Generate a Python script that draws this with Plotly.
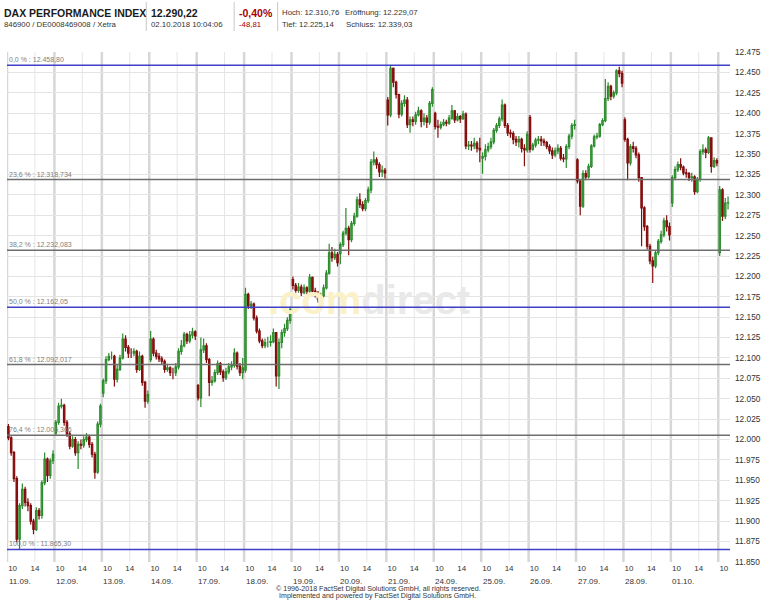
import plotly.graph_objects as go

# ---------------- data ----------------
days = ["11.09.", "12.09.", "13.09.", "14.09.", "17.09.", "18.09.", "19.09.", "20.09.",
        "21.09.", "24.09.", "25.09.", "26.09.", "27.09.", "28.09.", "01.10.", "02.10."]

# 30-minute candles, 9:00-17:30; open = previous close inside a day
day_open = [12016, 12008, 12057, 12098, 12066, 12085, 12196, 12228,
            12416, 12400, 12345, 12395, 12343, 12392, 12290, 12229.07]

closes = [
    [12002, 11984, 11952, 11878, 11919, 11939, 11923, 11919, 11900, 11890, 11913, 11907, 11947, 11976, 11956, 11974, 11982],
    [12021, 12041, 12042, 12021, 12007, 11992, 12000, 11984, 11994, 11993, 12000, 12003, 11994, 11982, 11960, 12019, 12041],
    [12072, 12098, 12102, 12102, 12074, 12086, 12100, 12123, 12113, 12106, 12106, 12108, 12086, 12102, 12070, 12047, 12055],
    [12123, 12106, 12102, 12099, 12096, 12086, 12088, 12082, 12082, 12089, 12108, 12115, 12129, 12121, 12128, 12132, 12127],
    [12051, 12110, 12115, 12098, 12070, 12072, 12082, 12093, 12083, 12076, 12083, 12089, 12091, 12106, 12090, 12082, 12088],
    [12178, 12164, 12166, 12149, 12133, 12121, 12115, 12119, 12119, 12120, 12131, 12078, 12119, 12131, 12136, 12146, 12159],
    [12189, 12183, 12187, 12180, 12186, 12182, 12199, 12182, 12179, 12172, 12176, 12186, 12204, 12229, 12223, 12227, 12217],
    [12239, 12253, 12259, 12245, 12265, 12274, 12294, 12288, 12283, 12293, 12306, 12340, 12343, 12337, 12328, 12330, 12327],
    [12398, 12455, 12438, 12423, 12399, 12412, 12416, 12386, 12392, 12390, 12398, 12403, 12390, 12394, 12389, 12412, 12429],
    [12384, 12383, 12386, 12389, 12388, 12394, 12403, 12392, 12396, 12393, 12399, 12360, 12361, 12360, 12363, 12357, 12355],
    [12347, 12355, 12359, 12365, 12379, 12385, 12393, 12410, 12385, 12376, 12375, 12368, 12365, 12368, 12357, 12355, 12374],
    [12356, 12361, 12367, 12368, 12366, 12364, 12359, 12354, 12349, 12354, 12357, 12345, 12344, 12359, 12372, 12385, 12386],
    [12317, 12286, 12326, 12322, 12335, 12360, 12371, 12372, 12386, 12391, 12418, 12433, 12421, 12425, 12452, 12449, 12437],
    [12368, 12339, 12359, 12357, 12349, 12321, 12284, 12261, 12237, 12219, 12213, 12229, 12243, 12251, 12268, 12261, 12251],
    [12321, 12331, 12337, 12334, 12327, 12326, 12321, 12322, 12304, 12319, 12353, 12355, 12352, 12370, 12335, 12342, 12339.03],
    [12306, 12274, 12290, 12290.22],
]
highs = [
    [12019, 12004, 11986, 11955, 11922, 11946, 11942, 11928, 11922, 11903, 11917, 11916, 11950, 11984, 11978, 11977, 11987],
    [12024, 12045, 12050, 12044, 12024, 12010, 12004, 12003, 11998, 12000, 12004, 12008, 12006, 11997, 11985, 12022, 12044],
    [12075, 12102, 12106, 12108, 12104, 12092, 12104, 12130, 12128, 12116, 12112, 12112, 12110, 12108, 12104, 12072, 12060],
    [12133, 12125, 12110, 12106, 12102, 12098, 12093, 12090, 12088, 12094, 12112, 12122, 12132, 12131, 12133, 12137, 12134],
    [12068, 12125, 12124, 12118, 12100, 12078, 12086, 12097, 12095, 12086, 12088, 12094, 12096, 12112, 12108, 12094, 12100],
    [12186, 12180, 12170, 12168, 12152, 12136, 12124, 12124, 12126, 12128, 12136, 12132, 12124, 12135, 12142, 12150, 12163],
    [12200, 12192, 12192, 12190, 12190, 12188, 12203, 12200, 12186, 12182, 12180, 12190, 12208, 12240, 12236, 12234, 12230],
    [12242, 12256, 12284, 12262, 12268, 12278, 12298, 12302, 12292, 12296, 12310, 12344, 12353, 12346, 12340, 12336, 12333],
    [12420, 12458.8, 12456, 12440, 12424, 12416, 12422, 12420, 12396, 12396, 12402, 12408, 12405, 12400, 12398, 12415, 12432],
    [12402, 12392, 12390, 12393, 12392, 12398, 12410, 12404, 12400, 12398, 12403, 12401, 12366, 12366, 12370, 12366, 12370],
    [12352, 12362, 12364, 12370, 12382, 12388, 12396, 12417, 12412, 12388, 12380, 12378, 12372, 12372, 12370, 12362, 12378],
    [12398, 12364, 12370, 12372, 12372, 12369, 12366, 12362, 12358, 12358, 12362, 12360, 12350, 12362, 12375, 12388, 12392],
    [12345, 12318, 12330, 12330, 12338, 12362, 12374, 12376, 12388, 12394, 12442, 12438, 12435, 12428, 12454, 12457, 12452],
    [12395, 12370, 12362, 12365, 12360, 12352, 12322, 12286, 12263, 12240, 12224, 12232, 12246, 12256, 12272, 12275, 12266],
    [12324, 12335, 12341, 12345, 12336, 12332, 12328, 12327, 12324, 12322, 12356, 12362, 12358, 12372, 12370, 12346, 12345],
    [12310.76, 12308, 12296, 12298],
]
lows = [
    [11999, 11980, 11948, 11874, 11865.3, 11915, 11918, 11912, 11896, 11884, 11888, 11902, 11903, 11944, 11948, 11952, 11970],
    [12005, 12018, 12038, 12017, 12003, 11988, 11990, 11980, 11964, 11988, 11990, 11997, 11990, 11978, 11952, 11958, 12015],
    [12052, 12068, 12096, 12098, 12065, 12070, 12084, 12098, 12108, 12100, 12100, 12102, 12082, 12084, 12066, 12039, 12044],
    [12095, 12102, 12098, 12095, 12092, 12082, 12083, 12078, 12074, 12078, 12086, 12104, 12113, 12117, 12118, 12124, 12122],
    [12048, 12040, 12106, 12094, 12053, 12066, 12070, 12079, 12079, 12071, 12073, 12080, 12085, 12088, 12086, 12078, 12074],
    [12082, 12160, 12160, 12146, 12130, 12118, 12112, 12112, 12113, 12114, 12118, 12065, 12062, 12112, 12126, 12133, 12142],
    [12184, 12180, 12180, 12176, 12178, 12178, 12180, 12178, 12174, 12168, 12167, 12174, 12184, 12202, 12218, 12220, 12212],
    [12215, 12236, 12250, 12226, 12242, 12262, 12272, 12284, 12280, 12280, 12290, 12302, 12336, 12332, 12322, 12322, 12320],
    [12385, 12395, 12432, 12418, 12394, 12396, 12408, 12382, 12376, 12384, 12386, 12396, 12383, 12385, 12382, 12386, 12408],
    [12380, 12370, 12380, 12384, 12384, 12386, 12392, 12388, 12390, 12388, 12392, 12356, 12355, 12354, 12356, 12352, 12340],
    [12326, 12342, 12352, 12356, 12362, 12376, 12382, 12390, 12382, 12372, 12370, 12362, 12360, 12358, 12352, 12335, 12352],
    [12352, 12354, 12358, 12362, 12360, 12360, 12356, 12350, 12344, 12346, 12350, 12342, 12340, 12333, 12356, 12368, 12380],
    [12314, 12275, 12284, 12318, 12320, 12333, 12358, 12368, 12370, 12384, 12389, 12415, 12416, 12418, 12422, 12444, 12432],
    [12365, 12318, 12336, 12352, 12345, 12316, 12237, 12256, 12233, 12215, 12192, 12210, 12226, 12240, 12248, 12255, 12244],
    [12285, 12318, 12328, 12330, 12324, 12321, 12317, 12316, 12300, 12302, 12316, 12349, 12345, 12350, 12327, 12333, 12335],
    [12225.14, 12268, 12270, 12282],
]

fib_pct = [0.0, 23.6, 38.2, 50.0, 61.8, 76.4, 100.0]
fib_labels = ["0,0 % : 12.458,80", "23,6 % : 12.318,734", "38,2 % : 12.232,083",
              "50,0 % : 12.162,05", "61,8 % : 12.092,017", "76,4 % : 12.005,366",
              "100,0 % : 11.865,30"]
fib_high = 12458.80
fib_low = 11865.30

y_ticks = list(range(11850, 12476, 25))
hour_ticks = ["10", "14"]

# ---------------- layout constants ----------------
W, H = 768, 600
ML, MR, MT, MB = 7, 29, 52, 38
PW, PH = W - ML - MR, H - MT - MB
DAY_LEN = 8.5            # Xetra session 9:00 - 17:30 (hours)
BAR = 0.5                # candle length in hours
X_MAX = 129.6
FONT = "Liberation Sans, Arial, sans-serif"


def px2x(px):
    return (px - ML) / PW


def py2y(py):
    return (H - MB - py) / PH


# ---------------- candles ----------------
cx, co, ch, cl, cc = [], [], [], [], []
for k in range(len(days)):
    prev = day_open[k]
    for j in range(len(closes[k])):
        cx.append(k * DAY_LEN + BAR * (j + 0.5))
        co.append(prev)
        ch.append(highs[k][j])
        cl.append(lows[k][j])
        cc.append(closes[k][j])
        prev = closes[k][j]

fig = go.Figure()

# watermark (drawn first so everything else is above it)
fig.add_trace(go.Scatter(
    x=[64.9], y=[12166], mode="text",
    text=['<b><span style="color:#fbf1c9">.com</span><span style="color:#e9e9e9">direct</span></b>'],
    textfont=dict(size=40, family=FONT),
    textposition="middle center", hoverinfo="skip", showlegend=False))

ann = []
# fibonacci lines
for p, lab in zip(fib_pct, fib_labels):
    lvl = fib_high - (fib_high - fib_low) * p / 100.0
    col = "#3f3fc8" if p in (0.0, 50.0, 100.0) else "#6e6e6e"
    fig.add_trace(go.Scatter(x=[0, X_MAX], y=[lvl, lvl], mode="lines",
                             line=dict(color=col, width=1.5),
                             hoverinfo="skip", showlegend=False))
    ann.append(dict(x=0.0, xref="paper", y=lvl, yref="y", text=lab,
                    showarrow=False, xanchor="left", yanchor="bottom",
                    font=dict(size=7, color="#808080", family=FONT)))

fig.add_trace(go.Candlestick(
    x=cx, open=co, high=ch, low=cl, close=cc,
    increasing=dict(line=dict(color="#2b8a2b", width=1.2), fillcolor="#7fdc7f"),
    decreasing=dict(line=dict(color="#820d0d", width=1.2), fillcolor="#a51414"),
    whiskerwidth=0, showlegend=False, hoverinfo="skip"))

# vertical grid: day starts (thick) and 14:00 (thin)
shapes = []
for k in range(len(days)):
    shapes.append(dict(type="line", xref="x", yref="paper", x0=k * DAY_LEN, x1=k * DAY_LEN,
                       y0=0, y1=1, line=dict(color="#d7d7d7", width=2.5), layer="below"))
    if k * DAY_LEN + 5 < X_MAX:
        shapes.append(dict(type="line", xref="x", yref="paper", x0=k * DAY_LEN + 5,
                           x1=k * DAY_LEN + 5, y0=0, y1=1,
                           line=dict(color="#e6e6e6", width=1), layer="below"))

# header separators
for sx in (148, 237, 281):
    shapes.append(dict(type="line", xref="paper", yref="paper", x0=px2x(sx), x1=px2x(sx),
                       y0=py2y(2), y1=py2y(31), line=dict(color="#c8c8c8", width=1)))

# x tick positions (10:00 and 14:00 of each day)
tickvals, ticktext = [], []
for k in range(len(days)):
    for h, t in zip((1, 5), hour_ticks):
        if k * DAY_LEN + h < X_MAX - 0.5:
            tickvals.append(k * DAY_LEN + h)
            ticktext.append(t)

# date labels under the hour ticks
for k, d in enumerate(days[:-1]):
    ann.append(dict(x=k * DAY_LEN, xref="x", y=py2y(581), yref="paper", text=d,
                    showarrow=False, xanchor="left", yanchor="middle", xshift=-0.5,
                    font=dict(size=8, color="#333333", family=FONT)))


def hdr(px, py, text, size=8, color="#333333", bold=False, anchor="left"):
    t = "<b>%s</b>" % text if bold else text
    ann.append(dict(x=px2x(px), xref="paper", y=py2y(py), yref="paper", text=t,
                    showarrow=False, xanchor=anchor, yanchor="middle",
                    font=dict(size=size, color=color, family=FONT)))


hdr(2, 12.5, "DAX PERFORMANCE INDEX", 10.5, "#1a1a1a", True)
hdr(2, 24.5, "846900 / DE0008469008 / Xetra", 7.8, "#333333")
hdr(151, 12.5, "12.290,22", 10.5, "#1a1a1a", True)
hdr(151, 24.5, "02.10.2018 10:04:06", 7.8, "#333333")
hdr(240, 12.5, "-0,40%", 10.5, "#a80000", True)
hdr(240, 24.5, "-48,81", 7.8, "#a80000")
hdr(283, 12.5, "Hoch: 12.310,76", 7.8, "#333333")
hdr(347, 12.5, "Eröffnung: 12.229,07", 7.8, "#333333")
hdr(283, 24.5, "Tief: 12.225,14", 7.8, "#333333")
hdr(348, 24.5, "Schluss: 12.339,03", 7.8, "#333333")
hdr(383.5, 588.5, "\u00a9 1996-2018 FactSet Digital Solutions GmbH, all rights reserved.",
    7.1, "#333333", anchor="center")
hdr(382.5, 595.5, "Implemented and powered by FactSet Digital Solutions GmbH.",
    7.1, "#333333", anchor="center")

fig.update_layout(
    width=W, height=H, margin=dict(l=ML, r=MR, t=MT, b=MB, pad=0),
    paper_bgcolor="white", plot_bgcolor="white",
    separators=",.", showlegend=False,
    font=dict(family=FONT, size=8, color="#333333"),
    shapes=shapes, annotations=ann,
    xaxis=dict(range=[0, X_MAX], tickvals=tickvals, ticktext=ticktext,
               showgrid=False, zeroline=False, showline=False, ticks="",
               tickfont=dict(size=8, color="#333333"), rangeslider=dict(visible=False),
               fixedrange=True),
    yaxis=dict(range=[11849.9, 12475.1], tickvals=y_ticks, tickformat=",d", side="right",
               showgrid=True, gridcolor="#e4e4e4", gridwidth=1, zeroline=False,
               showline=False, ticks="", ticklabelstandoff=4,
               tickfont=dict(size=8.3, color="#333333"), fixedrange=True),
)

fig.write_html("out.html", config={"displayModeBar": False},
               post_script="document.body.style.margin='0';document.body.style.overflow='hidden';")
